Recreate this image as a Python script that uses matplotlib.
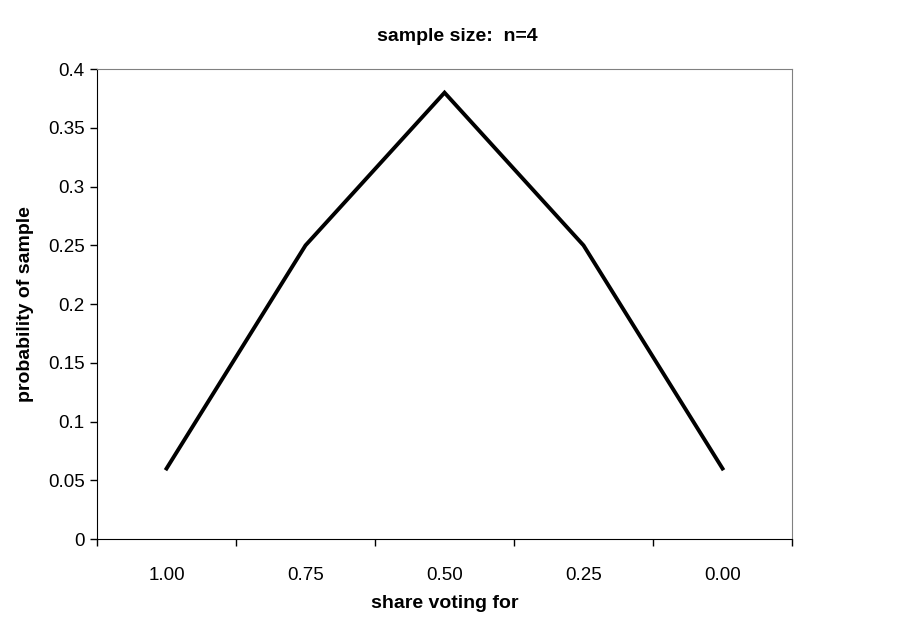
import matplotlib

matplotlib.use("Agg")
import matplotlib.pyplot as plt
import numpy as np

plt.rcParams["font.family"] = ["Liberation Sans", "DejaVu Sans"]

shares = ["1.00", "0.75", "0.50", "0.25", "0.00"]
probs = [0.06, 0.25, 0.38, 0.25, 0.06]
y_ticks = [0, 0.05, 0.1, 0.15, 0.2, 0.25, 0.3, 0.35, 0.4]
y_labels = ["0", "0.05", "0.1", "0.15", "0.2", "0.25", "0.3", "0.35", "0.4"]

fig = plt.figure(figsize=(9.11, 6.23), dpi=100)
ax = fig.add_axes([0.1065, 0.1348, 0.7629, 0.7542])

x = np.arange(len(shares))
ax.plot(x, probs, color="black", linewidth=2.8, solid_joinstyle="miter")

ax.set_xlim(-0.5, len(shares) - 0.5)
ax.set_ylim(0, 0.4)
ax.set_xticks(x)
ax.set_xticklabels(shares, fontsize=13.5)
ax.set_xticks(np.arange(len(shares) + 1) - 0.5, minor=True)
ax.tick_params(axis="x", which="major", length=0, pad=20)
ax.tick_params(axis="x", which="minor", length=5, direction="out", width=1)
ax.set_yticks(y_ticks)
ax.set_yticklabels(y_labels, fontsize=13.5)
ax.tick_params(axis="y", length=5, direction="out", width=1, pad=4)

for side in ("top", "right"):
    ax.spines[side].set_color("#808080")
for side in ("left", "bottom"):
    ax.spines[side].set_color("black")

ax.set_xlabel("share voting for", fontsize=14, fontweight="bold", labelpad=8)
ax.set_ylabel("probability of sample", fontsize=14, fontweight="bold", labelpad=10)
fig.text(0.502, 0.941, "sample size:  n=4", ha="center", va="center",
         fontsize=14, fontweight="bold")

fig.savefig("out.png", dpi=100)
